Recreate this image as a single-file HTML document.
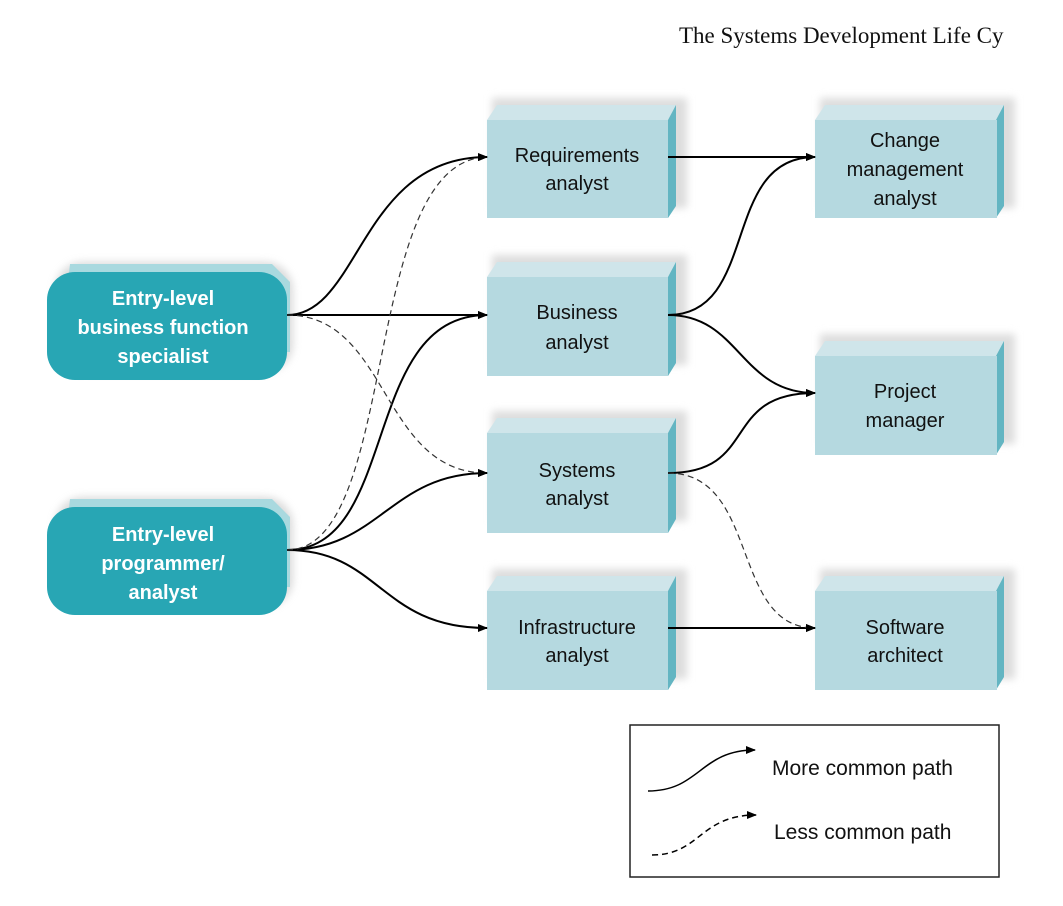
<!DOCTYPE html>
<html><head><style>
body{margin:0;background:#fff;width:1063px;height:901px;overflow:hidden;font-family:"Liberation Sans",sans-serif}
</style></head><body>
<svg width="1063" height="901" viewBox="0 0 1063 901" xmlns="http://www.w3.org/2000/svg">
<defs>
<marker id="a" markerWidth="10" markerHeight="8" refX="9" refY="4" orient="auto" markerUnits="userSpaceOnUse"><path d="M0,0 L10,4 L0,8 z" fill="#000"/></marker>
<filter id="s" x="-10%" y="-20%" width="130%" height="150%"><feGaussianBlur stdDeviation="4"/></filter>
</defs>
<text x="679" y="43" font-family="Liberation Serif" font-size="23" fill="#111">The Systems Development Life Cy</text>
<g id="boxes">
<!-- generic box function approximated -->
</g>
<g font-size="20" fill="#111" text-anchor="middle">
<!-- Left rounded nodes -->
<g>
<rect x="55" y="262" width="238" height="110" rx="28" fill="#ccc" filter="url(#s)" opacity="0.7"/>
<path d="M70,264 L272,264 L290,282 L290,352 L60,352 Z" fill="#a9d9df"/>
<rect x="47" y="272" width="240" height="108" rx="28" fill="#28a6b4"/>
<text x="163" y="305" fill="#fff" font-weight="bold">Entry-level</text>
<text x="163" y="334" fill="#fff" font-weight="bold">business function</text>
<text x="163" y="363" fill="#fff" font-weight="bold">specialist</text>
</g>
<g>
<rect x="55" y="497" width="238" height="110" rx="28" fill="#ccc" filter="url(#s)" opacity="0.7"/>
<path d="M70,499 L272,499 L290,517 L290,587 L60,587 Z" fill="#a9d9df"/>
<rect x="47" y="507" width="240" height="108" rx="28" fill="#28a6b4"/>
<text x="163" y="541" fill="#fff" font-weight="bold">Entry-level</text>
<text x="163" y="570" fill="#fff" font-weight="bold">programmer/</text>
<text x="163" y="599" fill="#fff" font-weight="bold">analyst</text>
</g>
</g>
<g font-size="20" fill="#111" text-anchor="middle">
<!-- box template: front x,y,w=181,h=98 -->
<g transform="translate(487,120)">
<rect x="5" y="-22" width="195" height="110" fill="#ddd" filter="url(#s)"/>
<path d="M0,0 L10,-15 L189,-15 L181,0 Z" fill="#cfe5ea"/>
<path d="M181,0 L189,-15 L189,86 L181,98 Z" fill="#63b5c2"/>
<rect x="0" y="0" width="181" height="98" fill="#b5d9e0"/>
<text x="90" y="42">Requirements</text><text x="90" y="70">analyst</text>
</g>
<g transform="translate(487,277)">
<rect x="5" y="-22" width="195" height="110" fill="#ddd" filter="url(#s)"/>
<path d="M0,0 L10,-15 L189,-15 L181,0 Z" fill="#cfe5ea"/>
<path d="M181,0 L189,-15 L189,86 L181,99 Z" fill="#63b5c2"/>
<rect x="0" y="0" width="181" height="99" fill="#b5d9e0"/>
<text x="90" y="42">Business</text><text x="90" y="72">analyst</text>
</g>
<g transform="translate(487,433)">
<rect x="5" y="-22" width="195" height="110" fill="#ddd" filter="url(#s)"/>
<path d="M0,0 L10,-15 L189,-15 L181,0 Z" fill="#cfe5ea"/>
<path d="M181,0 L189,-15 L189,86 L181,100 Z" fill="#63b5c2"/>
<rect x="0" y="0" width="181" height="100" fill="#b5d9e0"/>
<text x="90" y="44">Systems</text><text x="90" y="72">analyst</text>
</g>
<g transform="translate(487,591)">
<rect x="5" y="-22" width="195" height="110" fill="#ddd" filter="url(#s)"/>
<path d="M0,0 L10,-15 L189,-15 L181,0 Z" fill="#cfe5ea"/>
<path d="M181,0 L189,-15 L189,86 L181,99 Z" fill="#63b5c2"/>
<rect x="0" y="0" width="181" height="99" fill="#b5d9e0"/>
<text x="90" y="43">Infrastructure</text><text x="90" y="71">analyst</text>
</g>
<g transform="translate(815,120)">
<rect x="5" y="-22" width="195" height="110" fill="#ddd" filter="url(#s)"/>
<path d="M0,0 L10,-15 L189,-15 L181,0 Z" fill="#cfe5ea"/>
<path d="M181,0 L189,-15 L189,86 L181,98 Z" fill="#63b5c2"/>
<rect x="0" y="0" width="182" height="98" fill="#b5d9e0"/>
<text x="90" y="27">Change</text><text x="90" y="56">management</text><text x="90" y="85">analyst</text>
</g>
<g transform="translate(815,356)">
<rect x="5" y="-22" width="195" height="110" fill="#ddd" filter="url(#s)"/>
<path d="M0,0 L10,-15 L189,-15 L181,0 Z" fill="#cfe5ea"/>
<path d="M181,0 L189,-15 L189,86 L181,99 Z" fill="#63b5c2"/>
<rect x="0" y="0" width="182" height="99" fill="#b5d9e0"/>
<text x="90" y="42">Project</text><text x="90" y="71">manager</text>
</g>
<g transform="translate(815,591)">
<rect x="5" y="-22" width="195" height="110" fill="#ddd" filter="url(#s)"/>
<path d="M0,0 L10,-15 L189,-15 L181,0 Z" fill="#cfe5ea"/>
<path d="M181,0 L189,-15 L189,86 L181,99 Z" fill="#63b5c2"/>
<rect x="0" y="0" width="182" height="99" fill="#b5d9e0"/>
<text x="90" y="43">Software</text><text x="90" y="71">architect</text>
</g>
</g>
<g fill="none" stroke="#000" stroke-width="2" marker-end="url(#a)">
<path d="M287,315 C360,315 360,157 487,157"/>
<path d="M287,315 L487,315"/>
<path d="M287,550 C400,550 360,315 487,315"/>
<path d="M287,550 C380,550 390,473 487,473"/>
<path d="M287,550 C380,550 380,628 487,628"/>
<path d="M668,157 L815,157"/>
<path d="M668,315 C760,315 720,157 815,157"/>
<path d="M668,315 C740,315 740,393 815,393"/>
<path d="M668,473 C760,473 720,393 815,393"/>
<path d="M668,628 L815,628"/>
</g>
<g fill="none" stroke="#333" stroke-width="1.2" stroke-dasharray="6,4" marker-end="url(#a)">
<path d="M287,315 C390,315 380,473 487,473"/>
<path d="M287,550 C400,550 360,160 487,157"/>
<path d="M668,473 C760,473 730,628 815,628"/>
</g>
<rect x="630" y="725" width="369" height="152" fill="none" stroke="#222" stroke-width="1.5"/>
<path d="M648,791 C700,791 700,750 755,750" fill="none" stroke="#000" stroke-width="1.5" marker-end="url(#a)"/>
<path d="M652,855 C700,855 700,815 756,815" fill="none" stroke="#000" stroke-width="1.5" stroke-dasharray="6,4" marker-end="url(#a)"/>
<text x="772" y="775" font-size="21" fill="#111">More common path</text>
<text x="774" y="839" font-size="21" fill="#111">Less common path</text>
</svg>
</body></html>
